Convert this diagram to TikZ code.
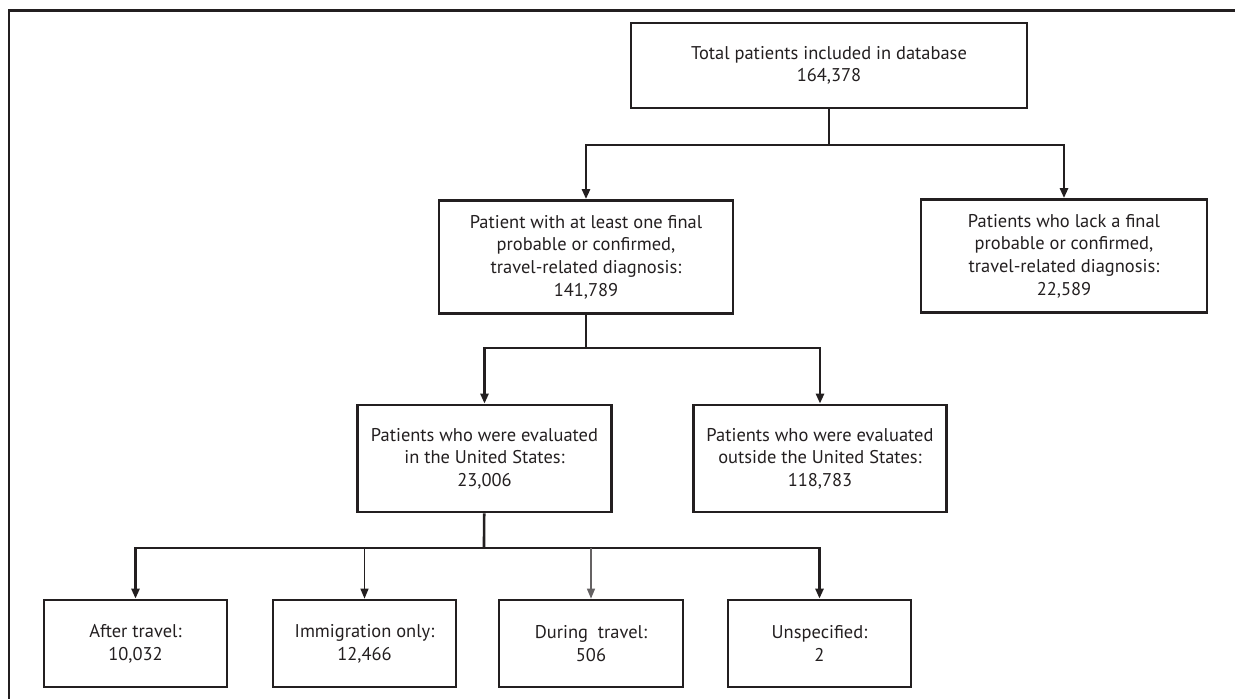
\documentclass[tikz,border=0pt]{standalone}
\usepackage{fontspec}
\setmainfont{PT Sans}
\usetikzlibrary{positioning,arrows.meta}

\definecolor{ink}{HTML}{231F20}

\tikzset{
  box/.style={draw=ink, line width=1.6pt, align=center, inner sep=0pt,
    text=ink, font=\fontsize{10.5}{12.9}\selectfont},
  topbox/.style={box, minimum width=7.92cm, minimum height=1.7cm},
  midbox/.style={box, minimum width=5.8cm, minimum height=2.26cm},
  usbox/.style={box, minimum width=5.07cm, minimum height=2.14cm},
  endbox/.style={box, minimum width=3.66cm, minimum height=1.74cm},
  link/.style={draw=ink, line width=1.5pt},
  arr/.style={link, -{Triangle[length=0.2cm,width=0.16cm]}},
  thinarr/.style={arr, line width=0.8pt},
}

\begin{document}
\begin{tikzpicture}[x=0.02cm, y=-0.02cm]
  \useasboundingbox (0,0) rectangle (1235,698);
  % frame
  \draw[ink, line width=1.7pt] (1240,10) -- (9,10) -- (9,705);

  % Nodes
  \node[topbox] (total) at (829,65.5) {Total patients included in database\\164,378};
  \node[midbox, minimum width=5.88cm] (diag) at (586,257) {Patient with at least one final\\probable or confirmed,\\ travel-related diagnosis:\\141,789};
  \node[midbox, minimum width=5.72cm] (nodiag) at (1064,256) {Patients who lack a final\\probable or confirmed,\\ travel-related diagnosis:\\22,589};
  \node[usbox] (inus) at (484.5,458.5) {Patients who were evaluated\\in the United States:\\23,006};
  \node[usbox] (outus) at (820,458.5) {Patients who were evaluated\\outside the United States:\\118,783};
  \node[endbox] (after) at (135.5,643.5) {After travel:\\10,032};
  \node[endbox] (immig) at (364.5,643.5) {Immigration only:\\12,466};
  \node[endbox, minimum width=3.68cm] (during) at (591,643.5) {During\ \ travel:\\506};
  \node[endbox] (unspec) at (819.5,643.5) {Unspecified:\\2};

  % bus points
  \coordinate (bus1) at (829,145);
  \coordinate (bus2) at (586,348);
  \coordinate (bus3) at (484,548);

  % Arrows
  \draw[link] (total) -- (bus1);
  \draw[arr] (bus1) -| (diag.north);
  \draw[arr] (bus1) -| (nodiag.north);
  \draw[link] (diag) -- (bus2);
  \draw[arr] (bus2) -| (inus.north);
  \draw[arr] (bus2) -| (outus.north);
  \draw[link] (inus) -- (bus3);
  \draw[arr] (bus3) -| (after.north);
  \draw[arr] (bus3) -| (unspec.north);
  \draw[thinarr] (bus3 -| immig.north) -- (immig.north);
  \draw[thinarr, draw=ink!70] (bus3 -| during.north) -- (during.north);
\end{tikzpicture}
\end{document}
